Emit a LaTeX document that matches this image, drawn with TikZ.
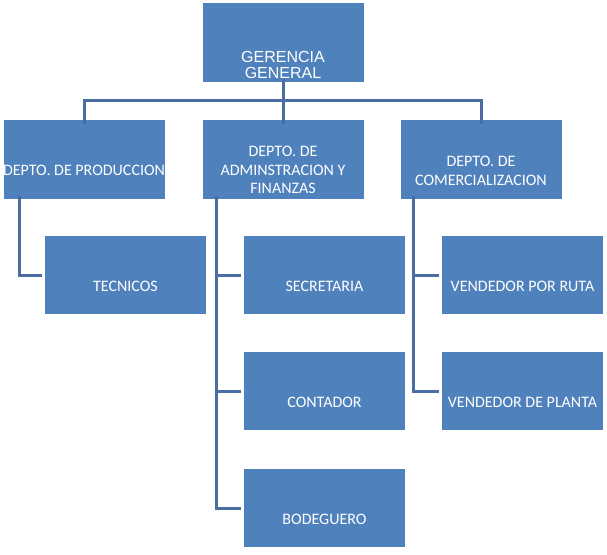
\documentclass[tikz,border=0pt]{standalone}
\usepackage{fontspec}
\setmainfont{Carlito}
\newfontfamily\arialf{Liberation Sans}
\definecolor{boxblue}{HTML}{4F81BD}
\definecolor{lineblue}{HTML}{4A6DA3}
\begin{document}
\begin{tikzpicture}[x=1pt,y=-1pt,
  box/.style={draw=none,fill=boxblue,minimum width=161pt,minimum height=79pt,inner sep=0pt},
  cbox/.style={draw=none,fill=boxblue,minimum width=161pt,minimum height=78pt,inner sep=0pt},
  txt/.style={text=white,align=center,inner sep=0pt,font=\fontsize{16}{18.5}\selectfont},
  gtxt/.style={text=white,align=center,inner sep=0pt,font=\arialf\fontsize{16}{16}\selectfont},
  conn/.style={draw=lineblue,line width=3pt}]
\useasboundingbox (0,0) rectangle (607,554);
% boxes
\node[box] (g) at (283,42.5) {};
\node[box] (prod) at (84,159.5) {};
\node[box] (adm) at (283,159.5) {};
\node[box] (com) at (481,159.5) {};
\node[cbox] (tec) at (125.5,275) {};
\node[cbox] (sec) at (324.5,275) {};
\node[cbox] (cont) at (324.5,391) {};
\node[cbox] (bod) at (324.5,508) {};
\node[cbox] (vr) at (522.5,275) {};
\node[cbox] (vp) at (522.5,391) {};
% texts
\node[gtxt] (gt) at (283,65) {GERENCIA\\GENERAL};
\node[txt] (prodt) at (84,170) {DEPTO. DE PRODUCCION};
\node[txt] (admt) at (283,170) {DEPTO. DE\\ADMINSTRACION Y\\FINANZAS};
\node[txt] (comt) at (481,171) {DEPTO. DE\\COMERCIALIZACION};
\node[txt] (tect) at (125.5,286) {TECNICOS};
\node[txt] (sect) at (324.5,286) {SECRETARIA};
\node[txt] (contt) at (324.5,402) {CONTADOR};
\node[txt] (bodt) at (324.5,519) {BODEGUERO};
\node[txt] (vrt) at (522.5,286) {VENDEDOR POR RUTA};
\node[txt] (vpt) at (522.5,402) {VENDEDOR DE PLANTA};
% connectors
\coordinate (bus) at (283,100.5);
\draw[conn] ([yshift=3pt]g.south) -- ([yshift=-4pt]adm.north);
\draw[conn] ([yshift=-4pt]prod.north) |- (bus) -| ([yshift=-4pt]com.north);
\coordinate (jp) at ([xshift=16pt,yshift=3pt]prod.south west);
\coordinate (ja) at ([xshift=14.5pt,yshift=3pt]adm.south west);
\coordinate (jc) at ([xshift=13.5pt,yshift=3pt]com.south west);
\draw[conn] (jp) |- ([xshift=-3pt]tec.west);
\draw[conn] (ja) |- ([xshift=-3pt]bod.west);
\draw[conn] (ja) |- ([xshift=-3pt]sec.west);
\draw[conn] (ja) |- ([xshift=-3pt]cont.west);
\draw[conn] (jc) |- ([xshift=-3pt]vp.west);
\draw[conn] (jc) |- ([xshift=-3pt]vr.west);
\end{tikzpicture}
\end{document}
